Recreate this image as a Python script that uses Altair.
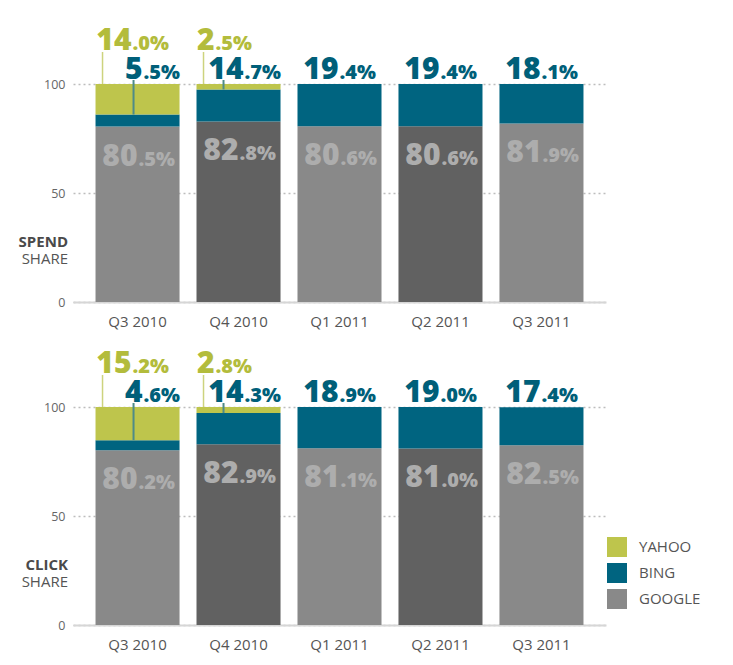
import altair as alt
import pandas as pd

quarters = ["Q3 2010", "Q4 2010", "Q1 2011", "Q2 2011", "Q3 2011"]
spend_google = [80.5, 82.8, 80.6, 80.6, 81.9]
spend_bing = [5.5, 14.7, 19.4, 19.4, 18.1]
spend_yahoo = [14.0, 2.5, 0.0, 0.0, 0.0]
click_google = [80.2, 82.9, 81.1, 81.0, 82.5]
click_bing = [4.6, 14.3, 18.9, 19.0, 17.4]
click_yahoo = [15.2, 2.8, 0.0, 0.0, 0.0]
panel_words = ["SPEND", "CLICK"]
share_word = "SHARE"
legend_names = ["YAHOO", "BING", "GOOGLE"]
y_ticks = [0, 50, 100]

FONT = "Open Sans"
COL_DOMAIN = ["YAHOO", "BING", "GOOGLE", "GOOGLE2"]
COL_RANGE = ["#bec54c", "#006480", "#898989", "#616161"]
Y_TXT = "#b3bc3c"
B_TXT = "#005f79"
G_TXT = "#adadad"
W, H = 533, 218
BIG, SMALL = 30, 20
DW = 18      # advance of one big digit
HALF = 42    # half bar width
G_ANCHOR = -HALF + 6 + 2 * DW
B_ANCHOR_Y = 5
B_ANCHOR_N = -1


def fields(name):
    return {
        name + "_int": f"format(floor(datum.{name} + 1e-9), 'd')",
        name + "_frac": f"'.' + format(round(datum.{name} * 10) % 10, 'd') + '%'",
        name + "_nd": f"length(format(floor(datum.{name} + 1e-9), 'd'))",
    }


def panel(word, google, bing, yahoo, with_legend):
    df = pd.DataFrame({"quarter": quarters, "idx": list(range(len(quarters))),
                       "google": google, "bing": bing, "yahoo": yahoo})
    xenc = alt.X("quarter:N", sort=quarters,
                 scale=alt.Scale(paddingInner=0.168, paddingOuter=0.223),
                 axis=alt.Axis(title=None, labelAngle=0, ticks=False, grid=False,
                               domainColor="#d6d6d6", domainWidth=2, labelPadding=12,
                               labelFont=FONT, labelFontSize=15, labelColor="#555555"))
    yscale = alt.Scale(domain=[0, 100], nice=False)
    yaxis = alt.Axis(title=None, values=y_ticks, domain=False, ticks=False, grid=True,
                     gridDash=[2, 3], gridColor="#bdbdbd", gridWidth=1.5, labelPadding=8,
                     labelFont=FONT, labelFontSize=12.5, labelColor="#666666")

    def Y(f):
        return alt.Y(f, scale=yscale, axis=yaxis)

    if with_legend:
        legend = alt.Legend(orient="none", legendX=534, legendY=130, title=None,
                            values=legend_names, symbolType="square", symbolSize=400,
                            symbolStrokeWidth=0, labelFont=FONT, labelFontSize=15,
                            labelColor="#555555", rowPadding=6, labelOffset=12)
    else:
        legend = None

    bars = alt.Chart(df).transform_fold(
        ["google", "bing", "yahoo"], as_=["key", "value"]
    ).transform_filter("datum.value > 0").transform_calculate(
        shade="datum.key == 'google' ? (datum.idx % 2 == 1 ? 'GOOGLE2' : 'GOOGLE') : upper(datum.key)",
        rank="datum.key == 'google' ? 0 : (datum.key == 'bing' ? 1 : 2)",
    ).mark_bar().encode(
        x=xenc,
        y=alt.Y("value:Q", stack="zero", scale=yscale, axis=yaxis),
        color=alt.Color("shade:N", scale=alt.Scale(domain=COL_DOMAIN, range=COL_RANGE), legend=legend),
        order=alt.Order("rank:Q", sort="ascending"),
    )

    lab = alt.Chart(df).transform_calculate(
        total="datum.google + datum.bing + datum.yahoo",
        gb="datum.google + datum.bing",
        **fields("google"), **fields("bing"), **fields("yahoo"),
    )

    def txt(src, name, yfield, color, anchor, dy):
        a = src.mark_text(font=FONT, fontWeight=800, fontSize=BIG, color=color, align="right",
                          baseline="alphabetic", dx=anchor, dy=dy).encode(
            x=xenc, y=Y(yfield), text=alt.Text(name + "_int:N"))
        b = src.mark_text(font=FONT, fontWeight=800, fontSize=SMALL, color=color, align="left",
                          baseline="alphabetic", dx=anchor + 1, dy=dy).encode(
            x=xenc, y=Y(yfield), text=alt.Text(name + "_frac:N"))
        return [a, b]

    layers = [bars]
    # connector rules
    layers.append(lab.transform_filter("datum.yahoo > 0").mark_rule(
        color="#cdd37e", strokeWidth=1.5, xOffset=-HALF + 7, y2Offset=-32).encode(
        x=xenc, y=Y("total:Q"), y2="total:Q"))
    for nd in (1, 2):
        layers.append(lab.transform_filter(f"datum.yahoo > 0 && datum.bing_nd == {nd}").mark_rule(
            color="#4e8b88", strokeWidth=2, xOffset=7 - 11 * nd, y2Offset=-4).encode(
            x=xenc, y=Y("gb:Q"), y2="total:Q"))
    # labels
    layers += txt(lab, "google", "google:Q", G_TXT, G_ANCHOR, 39)
    layers += txt(lab.transform_filter("datum.yahoo > 0"), "bing", "total:Q", B_TXT, B_ANCHOR_Y, -5)
    layers += txt(lab.transform_filter("datum.yahoo <= 0"), "bing", "total:Q", B_TXT, B_ANCHOR_N, -5)
    for nd in (1, 2):
        layers += txt(lab.transform_filter(f"datum.yahoo > 0 && datum.yahoo_nd == {nd}"),
                      "yahoo", "total:Q", Y_TXT, -HALF + nd * DW, -34)
    # side titles
    layers.append(alt.Chart(pd.DataFrame({"t": [word]})).mark_text(
        font=FONT, fontWeight="bold", fontSize=15, color="#4a4a4a", align="right",
        baseline="alphabetic").encode(x=alt.value(-5), y=alt.value(163), text="t:N"))
    layers.append(alt.Chart(pd.DataFrame({"t": [share_word]})).mark_text(
        font=FONT, fontWeight="normal", fontSize=15, color="#555555", align="right",
        baseline="alphabetic").encode(x=alt.value(-5), y=alt.value(180), text="t:N"))

    return alt.layer(*layers).properties(width=W, height=H)


top = panel(panel_words[0], spend_google, spend_bing, spend_yahoo, False)
bottom = panel(panel_words[1], click_google, click_bing, click_yahoo, True)

chart = alt.vconcat(top, bottom, spacing=20).resolve_scale(color="independent").properties(
    padding={"left": 10, "top": 18, "right": 5, "bottom": 5}
).configure_view(strokeWidth=0)

chart.save("out.html", embed_options={"renderer": "svg", "actions": False})
